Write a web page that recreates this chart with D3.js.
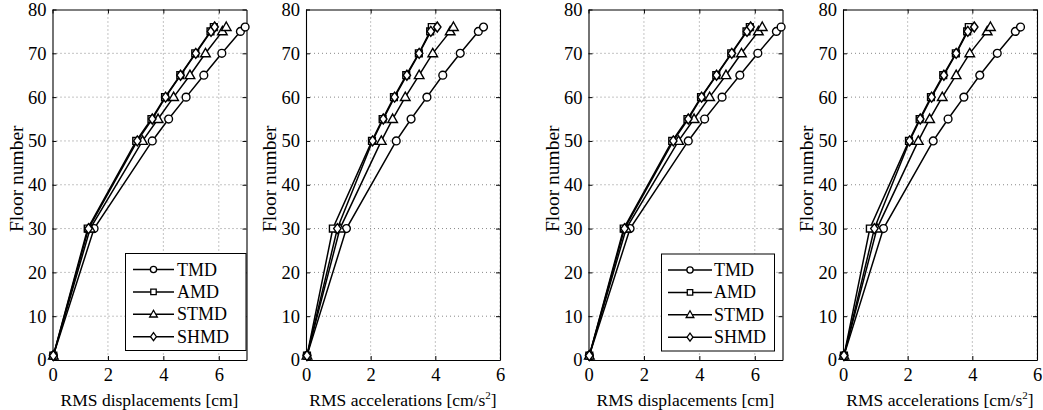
<!DOCTYPE html>
<html>
<head>
<meta charset="utf-8">
<script src="https://cdn.jsdelivr.net/npm/d3@7"></script>
<style>
body { margin: 0; background: white; }
svg text { font-family: "Liberation Serif", "Times New Roman", serif; fill: black; }
</style>
</head>
<body>
<div id="chart"></div>
<script>
var floors = [1, 30, 50, 55, 60, 65, 70, 75, 76]
var seriesNames = ["TMD", "AMD", "STMD", "SHMD"]
var markerTypes = ["circle", "square", "triangle", "diamond"]

// RMS displacements [cm]
var dispTMD  = [0.03, 1.50, 3.60, 4.19, 4.82, 5.46, 6.11, 6.78, 6.95]
var dispAMD  = [0.03, 1.27, 3.02, 3.57, 4.06, 4.61, 5.15, 5.70, 5.82]
var dispSTMD = [0.03, 1.36, 3.25, 3.81, 4.37, 4.96, 5.52, 6.13, 6.27]
var dispSHMD = [0.03, 1.30, 3.06, 3.60, 4.08, 4.62, 5.17, 5.72, 5.85]

// RMS accelerations [cm/s2]
var accTMD  = [0.03, 1.25, 2.79, 3.25, 3.74, 4.23, 4.77, 5.33, 5.49]
var accAMD  = [0.03, 0.83, 2.04, 2.37, 2.72, 3.10, 3.49, 3.84, 3.89]
var accSTMD = [0.03, 1.05, 2.33, 2.68, 3.07, 3.50, 3.92, 4.46, 4.56]
var accSHMD = [0.03, 0.97, 2.06, 2.39, 2.74, 3.12, 3.50, 3.86, 4.06]

var yTicks = [0, 10, 20, 30, 40, 50, 60, 70, 80]
var xTicksDisp = [0, 2, 4, 6]
var xTicksAcc = [0, 2, 4, 6]

var W = 1043, H = 410
var yTop = 9.5, yBottom = 360, pw = 194
var serif = "'Liberation Serif', 'Times New Roman', serif"

var svg = d3.select("#chart").append("svg")
	.attr("width", W)
	.attr("height", H)
	.style("font-family", serif)

var panels = [
	{left: 52.5, xmax: 7, ticks: xTicksDisp, series: [dispTMD, dispAMD, dispSTMD, dispSHMD], label: "RMS displacements [cm]", sup: false,
		legend: {x: 125.5, y: 253.5, w: 120.5, h: 97, lineX0: 133, lineX1: 174, textX: 177}},
	{left: 306, xmax: 6, ticks: xTicksAcc, series: [accTMD, accAMD, accSTMD, accSHMD], label: "RMS accelerations [cm/s", sup: true, legend: null},
	{left: 588.5, xmax: 7, ticks: xTicksDisp, series: [dispTMD, dispAMD, dispSTMD, dispSHMD], label: "RMS displacements [cm]", sup: false,
		legend: {x: 661.5, y: 254, w: 113, h: 97, lineX0: 668, lineX1: 712, textX: 714}},
	{left: 843, xmax: 6, ticks: xTicksAcc, series: [accTMD, accAMD, accSTMD, accSHMD], label: "RMS accelerations [cm/s", sup: true, legend: null}
]

//path for a marker centred on cx, cy, k scales it
function markerPath(type, cx, cy, k) {
	if (type == "circle") {
		var r = 3.9 * k
		return "M" + (cx - r) + "," + cy + "a" + r + "," + r + " 0 1,0 " + (2 * r) + ",0a" + r + "," + r + " 0 1,0 " + (-2 * r) + ",0Z"
	}
	if (type == "square") {
		var s = 3.4 * k
		return "M" + (cx - s) + "," + (cy - s) + "h" + (2 * s) + "v" + (2 * s) + "h" + (-2 * s) + "Z"
	}
	if (type == "triangle") {
		return "M" + cx + "," + (cy - 5 * k) + "L" + (cx + 4.8 * k) + "," + (cy + 3.4 * k) + "L" + (cx - 4.8 * k) + "," + (cy + 3.4 * k) + "Z"
	}
	return "M" + cx + "," + (cy - 5 * k) + "L" + (cx + 3.7 * k) + "," + cy + "L" + cx + "," + (cy + 5 * k) + "L" + (cx - 3.7 * k) + "," + cy + "Z"
}

panels.forEach(function(p) {
	var x = d3.scaleLinear().domain([0, p.xmax]).range([p.left, p.left + pw])
	var y = d3.scaleLinear().domain([0, 80]).range([yBottom, yTop])
	var g = svg.append("g")

	//grid
	g.selectAll(".gx").data(p.ticks.filter(function(t) { return t > 0 })).enter()
		.append("line")
		.attr("x1", function(d) { return x(d) }).attr("x2", function(d) { return x(d) })
		.attr("y1", yTop).attr("y2", yBottom)
		.style("stroke", "#888").style("stroke-width", 1).style("stroke-dasharray", "1,3")
	g.selectAll(".gy").data(yTicks.filter(function(t) { return t > 0 && t < 80 })).enter()
		.append("line")
		.attr("x1", p.left).attr("x2", p.left + pw)
		.attr("y1", function(d) { return y(d) }).attr("y2", function(d) { return y(d) })
		.style("stroke", "#888").style("stroke-width", 1).style("stroke-dasharray", "1,3")

	//axes on all four sides, ticks inside
	var fmt = d3.format("d")
	var axB = d3.axisBottom(x).tickValues(p.ticks).tickFormat(fmt).tickSizeInner(-4).tickSizeOuter(0).tickPadding(8)
	var axT = d3.axisTop(x).tickValues(p.ticks).tickSizeInner(-4).tickSizeOuter(0).tickFormat("")
	var axL = d3.axisLeft(y).tickValues(yTicks).tickFormat(fmt).tickSizeInner(-4).tickSizeOuter(0).tickPadding(6)
	var axR = d3.axisRight(y).tickValues(yTicks).tickSizeInner(-4).tickSizeOuter(0).tickFormat("")

	var gb = g.append("g").attr("transform", "translate(0," + yBottom + ")").call(axB)
	var gt = g.append("g").attr("transform", "translate(0," + yTop + ")").call(axT)
	var gl = g.append("g").attr("transform", "translate(" + p.left + ",0)").call(axL)
	var gr = g.append("g").attr("transform", "translate(" + (p.left + pw) + ",0)").call(axR)
	;[gb, gt, gl, gr].forEach(function(a) {
		a.selectAll("path").style("stroke", "black").style("stroke-width", 1.1)
		a.selectAll("line").style("stroke", "black").style("stroke-width", 1)
		a.selectAll("text")
			.style("fill", "black")
			.style("font-family", serif)
			.style("font-size", "18.5px")
	})

	//series
	p.series.forEach(function(vals, i) {
		var pts = floors.map(function(f, k) { return [x(vals[k]), y(f)] })
		g.append("path")
			.attr("d", d3.line()(pts))
			.style("fill", "none").style("stroke", "black").style("stroke-width", 1.5)
		g.selectAll(".m" + i).data(pts).enter()
			.append("path")
			.attr("d", function(d) { return markerPath(markerTypes[i], d[0], d[1], 1) })
			.style("fill", "white").style("stroke", "black").style("stroke-width", 1.4)
	})

	//axis labels
	var xl = g.append("text")
		.attr("x", p.left + pw / 2).attr("y", 406)
		.attr("text-anchor", "middle")
		.style("font-family", serif)
		.style("font-size", "17.5px")
		.text(p.label)
	if (p.sup) {
		xl.append("tspan").attr("dy", -7).style("font-size", "11px").text("2")
		xl.append("tspan").attr("dy", 7).text("]")
	}
	g.append("text")
		.attr("transform", "translate(" + (p.left - 30) + "," + ((yTop + yBottom) / 2 - 6) + ") rotate(-90)")
		.attr("text-anchor", "middle")
		.style("font-family", serif)
		.style("font-size", "19.5px")
		.text("Floor number")

	//legend
	if (p.legend) {
		var L = p.legend
		g.append("rect")
			.attr("x", L.x).attr("y", L.y).attr("width", L.w).attr("height", L.h)
			.style("fill", "white").style("stroke", "black").style("stroke-width", 1)
		seriesNames.forEach(function(name, i) {
			var ry = L.y + 16 + i * 22.4
			g.append("line")
				.attr("x1", L.lineX0).attr("x2", L.lineX1).attr("y1", ry).attr("y2", ry)
				.style("stroke", "black").style("stroke-width", 1.5)
			g.append("path")
				.attr("d", markerPath(markerTypes[i], (L.lineX0 + L.lineX1) / 2, ry, 0.8))
				.style("fill", "white").style("stroke", "black").style("stroke-width", 1.3)
			g.append("text")
				.attr("x", L.textX).attr("y", ry + 6)
				.style("font-family", serif)
				.style("font-size", "18px")
				.text(name)
		})
	}
})
</script>
</body>
</html>
